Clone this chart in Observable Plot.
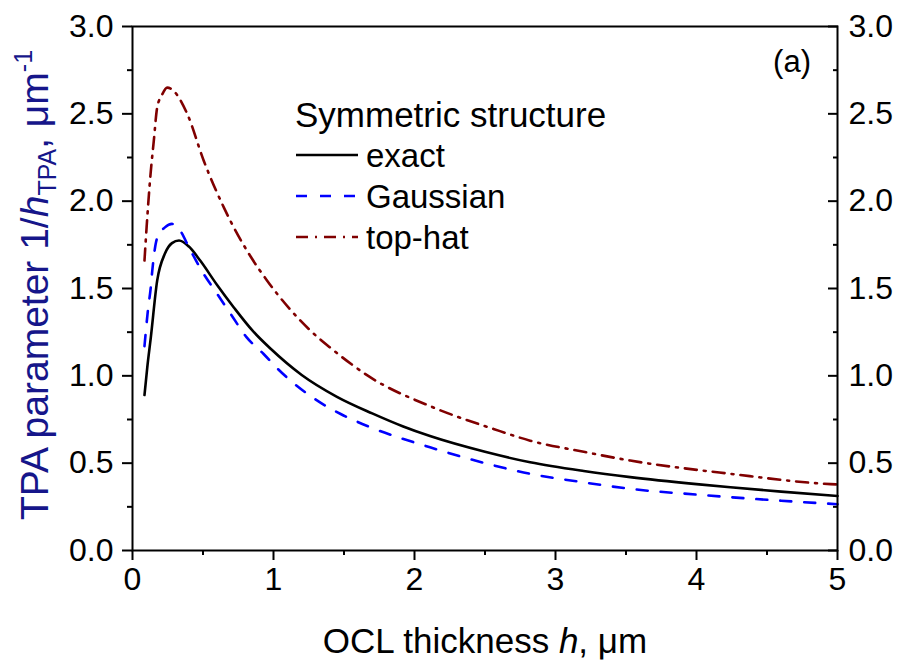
<!DOCTYPE html>
<html><head><meta charset="utf-8">
<script src="https://cdn.jsdelivr.net/npm/d3@7"></script>
<script src="https://cdn.jsdelivr.net/npm/@observablehq/plot@0.6"></script>
<style>
body{margin:0;background:#fff;}
svg{font-family:"Liberation Sans",Arial,Helvetica,sans-serif;}
</style>
</head><body><div id="chart"></div>
<script>
// OCL thickness h (µm) and TPA parameter 1/h_TPA (µm^-1)
const hExact   = [0.085,0.105,0.13,0.175,0.23,0.28,0.33,0.40,0.48,0.60,0.72,0.85,0.98,1.20,1.45,1.70,1.92,2.11,2.50,2.82,3.20,3.53,4.00,4.24,4.60,5.00];
const tpaExact = [0.89,1.05,1.22,1.545,1.70,1.76,1.775,1.74,1.66,1.52,1.39,1.26,1.155,1.005,0.88,0.785,0.71,0.655,0.565,0.505,0.455,0.42,0.38,0.362,0.337,0.312];

const hGauss   = [0.085,0.11,0.13,0.14,0.175,0.23,0.28,0.33,0.41,0.50,0.60,0.70,0.81,0.93,1.03,1.33,1.48,1.69,2.11,2.50,2.82,3.20,3.53,4.00,4.24,4.60,5.00];
const tpaGauss = [1.17,1.38,1.51,1.60,1.79,1.85,1.87,1.84,1.72,1.59,1.47,1.35,1.22,1.125,1.04,0.848,0.78,0.705,0.591,0.50,0.439,0.39,0.353,0.32,0.305,0.285,0.265];

const hTop     = [0.085,0.10,0.128,0.151,0.175,0.21,0.246,0.293,0.388,0.506,0.65,0.84,0.955,1.262,1.40,1.688,2.13,2.56,2.82,3.20,3.53,4.24,4.95,5.00];
const tpaTop   = [1.66,1.85,2.155,2.345,2.536,2.61,2.65,2.63,2.50,2.23,1.96,1.68,1.545,1.259,1.163,0.991,0.82,0.696,0.629,0.565,0.515,0.439,0.38,0.378];

const seriesNames = ["exact","Gaussian","top-hat"];
const legendTitle = "Symmetric structure";
const panelLabel = "(a)";
const yTicksMajor = [0,0.5,1,1.5,2,2.5,3];
const yTicksMinor = [0.25,0.75,1.25,1.75,2.25,2.75];
const xTicksMajor = [0,1,2,3,4,5];
const xTicksMinor = [0.5,1.5,2.5,3.5,4.5];

const styles = {
  "exact":    {stroke:"#000000", dash:null},
  "Gaussian": {stroke:"#0000ff", dash:"11,13"},
  "top-hat":  {stroke:"#800000", dash:"12,7,2,7"}
};
const data = {
  "exact": hExact.map((h,i)=>({h, v:tpaExact[i]})),
  "Gaussian": hGauss.map((h,i)=>({h, v:tpaGauss[i]})),
  "top-hat": hTop.map((h,i)=>({h, v:tpaTop[i]}))
};

const FS = 32;
const fmt1 = d => d.toFixed(1);
const blank = () => "";

const plot = Plot.plot({
  width: 901, height: 670,
  marginLeft: 132, marginRight: 64, marginTop: 26, marginBottom: 120,
  x: {domain:[0,5]},
  y: {domain:[0,3]},
  style: {fontFamily:'"Liberation Sans",Arial,sans-serif', fontSize: FS+"px", color:"#000", background:"#fff", overflow:"visible"},
  marks: [
    Plot.axisY(yTicksMajor, {anchor:"left", tickSize:10, tickPadding:9, tickFormat:fmt1, label:null, strokeWidth:2, fontSize:FS}),
    Plot.axisY(yTicksMinor, {anchor:"left", tickSize:5, tickFormat:blank, label:null, strokeWidth:2}),
    Plot.axisY(yTicksMajor, {anchor:"right", tickSize:-10, tickFormat:blank, label:null, strokeWidth:2}),
    Plot.axisY(yTicksMinor, {anchor:"right", tickSize:-5, tickFormat:blank, label:null, strokeWidth:2}),
    Plot.axisY(yTicksMajor, {anchor:"right", tickSize:0, tickPadding:11, tickFormat:fmt1, label:null, fontSize:FS}),
    Plot.axisX(xTicksMajor, {anchor:"bottom", tickSize:10, tickPadding:7, tickFormat:d=>String(d), label:null, strokeWidth:2, fontSize:FS}),
    Plot.axisX(xTicksMinor, {anchor:"bottom", tickSize:5, tickFormat:blank, label:null, strokeWidth:2}),
    ...seriesNames.map(n => Plot.line(data[n], {x:"h", y:"v", stroke:styles[n].stroke, strokeWidth:2.6, strokeDasharray:styles[n].dash, curve:"monotone-x"})),
    Plot.frame({stroke:"#000", strokeWidth:2})
  ]
});
document.getElementById("chart").appendChild(plot);

const svg = d3.select(plot);
// y-axis title
const yt = svg.append("text")
  .attr("transform","translate(48,285) rotate(-90)")
  .attr("text-anchor","middle")
  .attr("fill","#16168a")
  .attr("font-size",39);
yt.append("tspan").text("TPA parameter 1/");
yt.append("tspan").attr("font-style","italic").text("h");
yt.append("tspan").attr("font-size",25).attr("dy",8).text("TPA");
yt.append("tspan").attr("dy",-8).text(", \u03bcm");
yt.append("tspan").attr("font-size",25).attr("dy",-16).text("-1");

// x-axis title
const xt = svg.append("text")
  .attr("x",485).attr("y",653)
  .attr("text-anchor","middle")
  .attr("fill","#000")
  .attr("font-size",35);
xt.append("tspan").text("OCL thickness ");
xt.append("tspan").attr("font-style","italic").text("h");
xt.append("tspan").text(", \u03bcm");

// panel label
svg.append("text").attr("x",811).attr("y",72).attr("text-anchor","end").attr("font-size",31).text(panelLabel);

// legend
const lg = svg.append("g").attr("text-anchor","start");
lg.append("text").attr("x",295).attr("y",127).attr("font-size",35).text(legendTitle);
seriesNames.forEach((n,i) => {
  const yy = 155 + i*41;
  lg.append("line").attr("x1",296).attr("x2",358).attr("y1",yy).attr("y2",yy)
    .attr("stroke",styles[n].stroke).attr("stroke-width",2.6)
    .attr("stroke-dasharray",styles[n].dash);
  lg.append("text").attr("x",366).attr("y",yy+12).attr("font-size",33).text(n);
});
</script>
</body></html>
